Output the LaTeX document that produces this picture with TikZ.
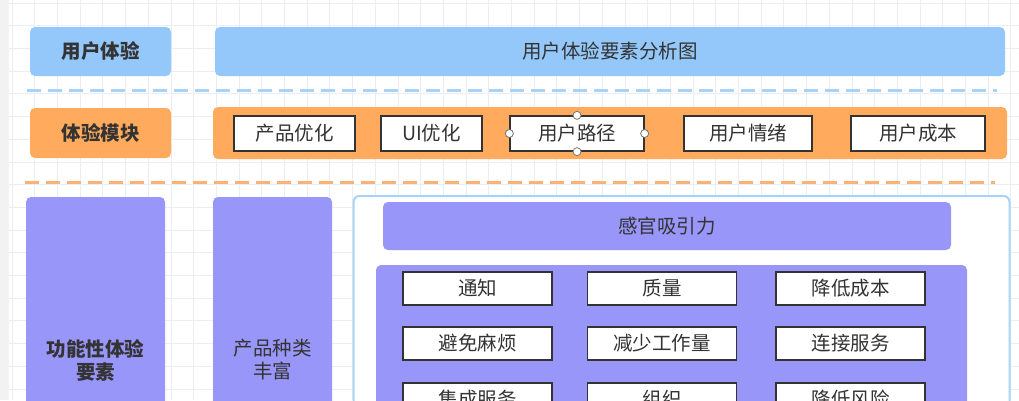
\documentclass[tikz,border=0pt]{standalone}
\usepackage{fontspec}
\setmainfont{Noto Sans CJK SC}
\newfontfamily\cjk{Noto Sans CJK SC}
\begin{document}
\begin{tikzpicture}[x=1pt,y=-1pt,
  blk/.style={rounded corners=5pt, inner sep=0pt, text=black!80, font=\fontsize{19.5}{22}\selectfont},
  bluebox/.style={blk, fill=cblue},
  orangebox/.style={blk, fill=corange},
  purplebox/.style={blk, fill=cpurple},
  itembox/.style={draw=black!80, line width=1.3pt, fill=white, inner sep=0pt, text=black!80, font=\fontsize{19.5}{22}\selectfont},
  sep/.style={line width=3pt, dash pattern=on 14pt off 7pt},
  handle/.style={circle, draw=black!55, fill=white, line width=0.8pt, minimum size=8pt, inner sep=0pt}
]
\definecolor{cblue}{HTML}{94C8FA}
\definecolor{corange}{HTML}{FFAA5C}
\definecolor{cpurple}{HTML}{9896F9}
\definecolor{cdblue}{HTML}{A9D3F4}
\definecolor{cdorange}{HTML}{FDB275}
\definecolor{cgrid}{HTML}{EAEDF1}
\useasboundingbox (0,0) rectangle (1019,400);
\fill[white] (0,0) rectangle (1019,400);
\fill[black!5] (0,0) rectangle (9,400);
\foreach \i in {0,...,45} {\draw[cgrid, line width=0.7pt] (12+22.7*\i,0) -- (12+22.7*\i,400);}
\foreach \j in {0,...,18} {\draw[cgrid, line width=0.7pt] (9,3+22.7*\j) -- (1019,3+22.7*\j);}

% row 1
\node[bluebox, minimum width=141pt, minimum height=49pt, font=\fontsize{19.5}{22}\selectfont\bfseries] (ux) at (100.5,51.5) {用户体验};
\node[bluebox, minimum width=790pt, minimum height=49pt] (title) at (610,51.5) {用户体验要素分析图};
\coordinate (d1a) at (27,90); \coordinate (d1b) at (997,90);
\draw[sep, cdblue] (d1a) -- (d1b);

% row 2
\node[orangebox, minimum width=141pt, minimum height=50pt, font=\fontsize{19.5}{22}\selectfont\bfseries] (mod) at (100.5,133) {体验模块};
\node[orangebox, minimum width=794pt, minimum height=52pt] (obar) at (610,133) {};
\node[itembox, minimum width=121pt, minimum height=35pt] (m1) at (294.5,133.5) {产品优化};
\node[itembox, minimum width=101pt, minimum height=35pt] (m2) at (431.5,133.5) {UI优化};
\node[itembox, minimum width=134pt, minimum height=35pt] (m3) at (577,133.5) {用户路径};
\node[itembox, minimum width=128pt, minimum height=35pt] (m4) at (748,133.5) {用户情绪};
\node[itembox, minimum width=134pt, minimum height=35pt] (m5) at (918,133.5) {用户成本};
\node[handle] at (m3.north) {};
\node[handle] at (m3.south) {};
\node[handle] at (m3.west) {};
\node[handle] at (m3.east) {};
\coordinate (d2a) at (25,182); \coordinate (d2b) at (995,182);
\draw[sep, cdorange] (d2a) -- (d2b);

% row 3
\node[purplebox, minimum width=139pt, minimum height=326pt, font=\fontsize{19.5}{23}\selectfont\bfseries, align=center] (func) at (95.5,360) {功能性体验\\要素};
\node[purplebox, minimum width=119pt, minimum height=326pt, align=center, font=\fontsize{19.5}{23}\selectfont] (kind) at (272.5,360) {产品种类\\丰富};
\node[draw=cdblue, line width=2pt, fill=white, rounded corners=6pt, minimum width=656pt, minimum height=330pt, inner sep=0pt] (cont) at (681.5,361) {};
\node[purplebox, minimum width=568pt, minimum height=48pt] (sense) at (667,226) {感官吸引力};
\node[purplebox, minimum width=591pt, minimum height=300pt] (panel) at (671.5,415) {};
\foreach \t/\x/\y/\n in {通知/477.5/288.5/a1, 质量/662/288.5/a2, 降低成本/850.5/288.5/a3,
                        避免麻烦/477.5/343.5/b1, 减少工作量/662/343.5/b2, 连接服务/850.5/343.5/b3,
                        集成服务/477.5/399.5/c1, 组织/662/399.5/c2, 降低风险/850.5/399.5/c3}
  {\node[itembox, minimum width=149pt, minimum height=33pt] (\n) at (\x,\y) {\t};}
\end{tikzpicture}
\end{document}
